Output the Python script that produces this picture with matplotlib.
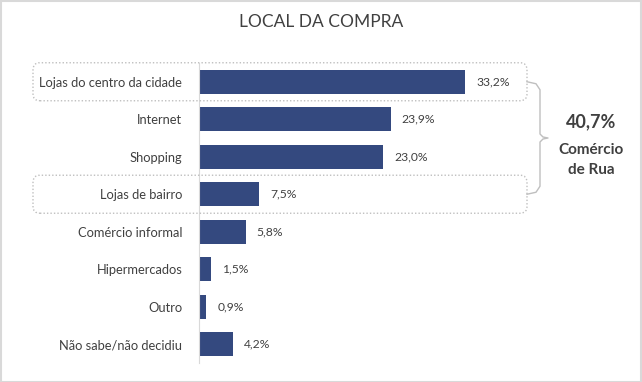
import numpy as np
import matplotlib
matplotlib.use("Agg")
import matplotlib.pyplot as plt
from matplotlib.patches import FancyBboxPatch, Rectangle
from matplotlib.lines import Line2D

plt.rcParams['font.family'] = ['Lato', 'DejaVu Sans']

# dados
categorias = ["Lojas do centro da cidade", "Internet", "Shopping", "Lojas de bairro",
              "Comércio informal", "Hipermercados", "Outro", "Não sabe/não decidiu"]
valores = [33.2, 23.9, 23.0, 7.5, 5.8, 1.5, 0.9, 4.2]
rotulos = ["33,2%", "23,9%", "23,0%", "7,5%", "5,8%", "1,5%", "0,9%", "4,2%"]
destaque = [0, 3]          # linhas com caixa pontilhada
total_destaque = "40,7%"

W, H = 642, 382
cor_barra = "#34497f"
cor_texto = "#404040"
cor_cinza = "#bfbfbf"

fig = plt.figure(figsize=(W / 100, H / 100), dpi=100)
fig.patch.set_facecolor("white")
fig.patches.append(Rectangle((0.5 / W, 0.5 / H), 1 - 1.5 / W, 1 - 1.5 / H, transform=fig.transFigure,
                             fill=False, edgecolor="#d9d9d9", lw=1.5))

# eixo em pixels: esquerda 199, topo 63, base 363
ax = fig.add_axes([199 / W, (H - 363) / H, (600 - 199) / W, 300 / H])
y = np.arange(len(categorias))
ax.barh(y, valores, height=0.65, color=cor_barra)
ax.set_xlim(0, 50)
ax.set_ylim(len(categorias) - 0.5, -0.5)
ax.set_yticks(y)
ax.set_yticklabels(categorias, fontsize=9.3, color=cor_texto)
ax.tick_params(axis="y", length=0, pad=12)
ax.set_xticks([])
for s in ["top", "right", "bottom"]:
    ax.spines[s].set_visible(False)
ax.spines["left"].set_color("#d9d9d9")

for yi, v, r in zip(y, valores, rotulos):
    ax.annotate(r, (v, yi), xytext=(8, 0), textcoords="offset points",
                va="center", ha="left", fontsize=8.7, color=cor_texto)

fig.text(0.5, 1 - 22 / H, "LOCAL DA COMPRA", ha="center", va="center",
         fontsize=12.5, color=cor_texto)

# caixas pontilhadas (coordenadas de tela)
def ypix(v):
    return ax.transData.transform((0, v))[1]

for i in destaque:
    yc = ypix(i)
    box = FancyBboxPatch((33, yc - 19), 494, 38, boxstyle="round,pad=0,rounding_size=7",
                         transform=None, fill=False, edgecolor=cor_cinza,
                         lw=1.0, linestyle=(0, (1, 1.5)))
    fig.patches.append(box)

# chave
y1, y2 = ypix(destaque[0]), ypix(destaque[1])
ym = (y1 + y2) / 2
xs = [527, 536, 540, 540, 543, 548, 543, 540, 540, 536, 527]
ys = [y1, y1 - 2, y1 - 8, ym + 4, ym + 1, ym, ym - 1, ym - 4, y2 + 8, y2 + 2, y2]
fig.lines.append(Line2D(xs, ys, transform=None, color=cor_cinza, lw=1.0))

fig.text(591 / W, 1 - 122 / H, total_destaque, ha="center", va="center",
         fontsize=13, fontweight="bold", color=cor_texto)
fig.text(591 / W, 1 - 150 / H, "Comércio", ha="center", va="center",
         fontsize=11, fontweight="bold", color=cor_texto)
fig.text(591 / W, 1 - 170 / H, "de Rua", ha="center", va="center",
         fontsize=11, fontweight="bold", color=cor_texto)

fig.savefig("out.png", dpi=100)
